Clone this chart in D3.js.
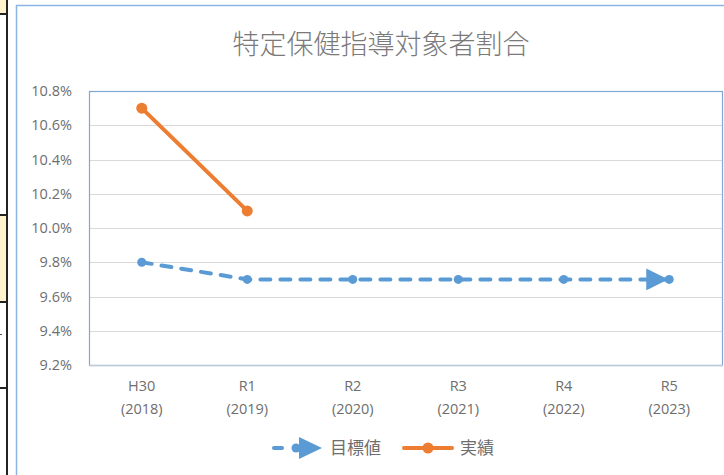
<!DOCTYPE html>
<html><head><meta charset="utf-8">
<script src="https://cdn.jsdelivr.net/npm/d3@7"></script>
<style>
html,body{margin:0;padding:0;background:#fff;}
svg{display:block;}
</style>
</head><body>
<svg id="c" width="724" height="475"></svg>
<script>
const categories = ["H30","R1","R2","R3","R4","R5"];
const years = ["(2018)","(2019)","(2020)","(2021)","(2022)","(2023)"];
const targetValues = [9.8, 9.7, 9.7, 9.7, 9.7, 9.7];
const actualValues = [10.7, 10.1, null, null, null, null];
const yTicks = [9.2, 9.4, 9.6, 9.8, 10.0, 10.2, 10.4, 10.6, 10.8];
const title = "特定保健指導対象者割合";
const seriesNames = ["目標値", "実績"];

const BLUE = "#5B9BD5", ORANGE = "#ED7D31", GRAY = "#6E6E6E", TGRAY = "#7A7A7A";
const latin = "'Open Sans', 'Noto Sans', sans-serif";
const cjk = "'Noto Sans CJK JP', sans-serif";

const svg = d3.select("#c");

// spreadsheet background at left edge
const bg = svg.append("g");
bg.append("rect").attr("x",0).attr("y",0).attr("width",6).attr("height",14).attr("fill","#FFF2CC");
bg.append("rect").attr("x",0).attr("y",216).attr("width",6).attr("height",86).attr("fill","#FFF2CC");
[14,215,302,388].forEach(y=>bg.append("rect").attr("x",0).attr("y",y-1).attr("width",8).attr("height",2).attr("fill","#222"));
bg.append("rect").attr("x",6).attr("y",0).attr("width",2).attr("height",475).attr("fill","#222");
bg.append("rect").attr("x",0).attr("y",334).attr("width",2).attr("height",1).attr("fill","#555");

// chart area border
svg.append("path").attr("d","M16.5,475 V5.5 H724").attr("fill","none").attr("stroke","#8DB4E2").attr("stroke-width",1.5);

const m = {left: 89, top: 91, right: 722, bottom: 365};
const x = d3.scaleBand().domain(categories).range([m.left, m.right]);
const y = d3.scaleLinear().domain([9.2, 10.8]).range([m.bottom, m.top]);
const cx = c => x(c) + x.bandwidth()/2;

// gridlines
svg.append("g").selectAll("line").data(yTicks.slice(1, -1)).join("line")
  .attr("x1", m.left).attr("x2", m.right)
  .attr("y1", d => Math.round(y(d))+0.5).attr("y2", d => Math.round(y(d))+0.5)
  .attr("stroke", "#D9D9D9").attr("stroke-width", 1.2);

// plot area border
svg.append("rect").attr("x", m.left+0.5).attr("y", m.top+0.5)
  .attr("width", m.right-m.left).attr("height", m.bottom-m.top)
  .attr("fill","none").attr("stroke","#7EA8D8").attr("stroke-width",1.2);
svg.append("line").attr("x1", m.left).attr("x2", m.right+1).attr("y1", m.bottom+0.5).attr("y2", m.bottom+0.5)
  .attr("stroke","#BFC9D8").attr("stroke-width",1.5);

// y axis
const yAxis = d3.axisLeft(y).tickValues(yTicks).tickFormat(d => d.toFixed(1) + "%").tickSize(0).tickPadding(17);
const ya = svg.append("g").attr("transform", `translate(${m.left},0)`).call(yAxis);
ya.select(".domain").remove();
ya.selectAll("text").attr("fill", GRAY).style("font-family", latin).style("font-size", "14.5px");

// x axis
const xAxis = d3.axisBottom(x).tickSize(0).tickFormat(() => "");
const xa = svg.append("g").attr("transform", `translate(0,${m.bottom})`).call(xAxis);
xa.select(".domain").remove();
xa.selectAll(".tick").each(function(d, i) {
  const t = d3.select(this).append("text").attr("fill", GRAY).attr("text-anchor", "middle")
    .style("font-family", latin).style("font-size", "14.5px");
  t.append("tspan").attr("x", 0).attr("y", 26).text(categories[i]);
  t.append("tspan").attr("x", 0).attr("y", 49).text(years[i]);
});

// title
svg.append("text").attr("x", 381).attr("y", 54).attr("text-anchor","middle")
  .attr("fill", TGRAY).style("font-family", cjk).style("font-weight", 300).style("font-size","27px").text(title);

// arrow marker
const defs = svg.append("defs");
defs.append("marker").attr("id","arr").attr("viewBox","0 0 10 10").attr("refX",10).attr("refY",5)
  .attr("markerWidth",22).attr("markerHeight",22).attr("markerUnits","userSpaceOnUse").attr("orient","auto")
  .append("path").attr("d","M0,0 L10,5 L0,10 Z").attr("fill",BLUE);

// target line
const tData = targetValues.map((v,i)=>({c:categories[i], v}));
const line = d3.line().x(d=>cx(d.c)).y(d=>y(d.v)).defined(d=>d.v!=null);
svg.append("path").datum(tData).attr("d", line).attr("fill","none").attr("stroke",BLUE)
  .attr("stroke-width",4).attr("stroke-dasharray","10,10").attr("stroke-linecap","round");
// arrow head at end
const lastT = tData[tData.length-1];
svg.append("line").attr("x1", cx(lastT.c)-22).attr("x2", cx(lastT.c)-1)
  .attr("y1", y(lastT.v)).attr("y2", y(lastT.v)).attr("stroke","none").attr("marker-end","url(#arr)");
svg.append("g").selectAll("circle").data(tData).join("circle")
  .attr("cx", d=>cx(d.c)).attr("cy", d=>y(d.v)).attr("r",4.5).attr("fill",BLUE);

// actual line
const aData = actualValues.map((v,i)=>({c:categories[i], v})).filter(d=>d.v!=null);
svg.append("path").datum(aData).attr("d", line).attr("fill","none").attr("stroke",ORANGE)
  .attr("stroke-width",4).attr("stroke-linecap","round");
svg.append("g").selectAll("circle").data(aData).join("circle")
  .attr("cx", d=>cx(d.c)).attr("cy", d=>y(d.v)).attr("r",5.5).attr("fill",ORANGE);

// legend
const lg = svg.append("g").attr("transform","translate(0,448)");
lg.append("line").attr("x1",274).attr("x2",282).attr("y1",0).attr("y2",0).attr("stroke",BLUE).attr("stroke-width",4).attr("stroke-linecap","round");
lg.append("circle").attr("cx",296).attr("cy",0).attr("r",4.5).attr("fill",BLUE);
lg.append("line").attr("x1",296).attr("x2",301).attr("y1",0).attr("y2",0).attr("stroke",BLUE).attr("stroke-width",4);
lg.append("path").attr("d","M299,-11 L322,0 L299,11 Z").attr("fill",BLUE);
lg.append("text").attr("x",330).attr("y",0).attr("dy","0.35em").attr("fill",GRAY)
  .style("font-family",cjk).style("font-size","17px").text(seriesNames[0]);
lg.append("line").attr("x1",404).attr("x2",452).attr("y1",0).attr("y2",0).attr("stroke",ORANGE).attr("stroke-width",4).attr("stroke-linecap","round");
lg.append("circle").attr("cx",428).attr("cy",0).attr("r",5.5).attr("fill",ORANGE);
lg.append("text").attr("x",460).attr("y",0).attr("dy","0.35em").attr("fill",GRAY)
  .style("font-family",cjk).style("font-size","17px").text(seriesNames[1]);
</script>
</body></html>
